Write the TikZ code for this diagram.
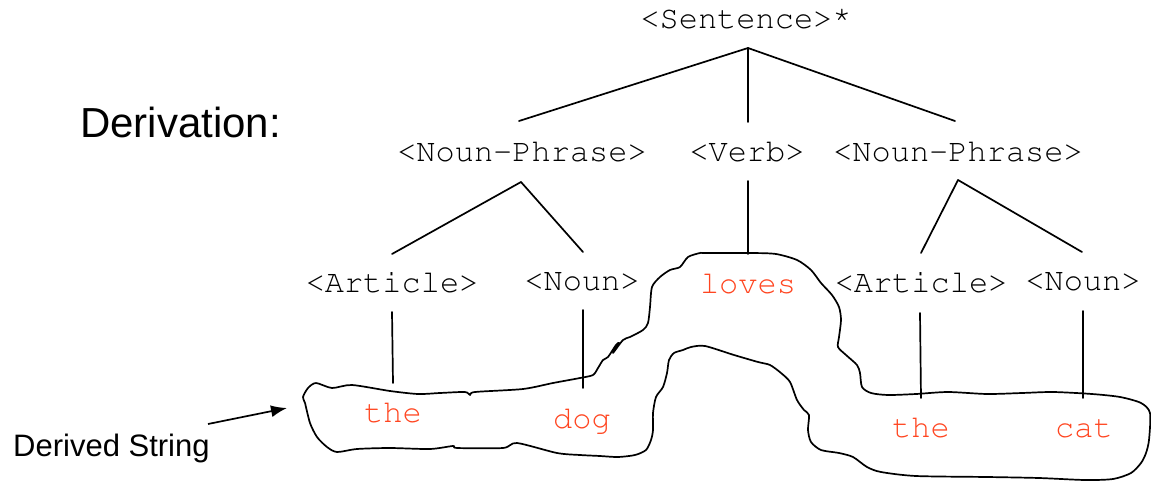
\documentclass[tikz,border=0pt]{standalone}
\usepackage[T1]{fontenc}
\usepackage{fontspec}
\setmainfont{Liberation Sans}
\newcommand\crfont{\fontencoding{T1}\fontfamily{pcr}\fontseries{m}\fontshape{n}\selectfont}
\usetikzlibrary{arrows.meta}
\definecolor{leafred}{RGB}{255,69,32}
\tikzset{
  cat/.style={anchor=base, inner sep=0pt, font=\fontsize{32}{36}\crfont},
  leaf/.style={cat, text=leafred},
  edge/.style={line width=1.7pt, line cap=round},
  blob/.style={line width=1.7pt, line join=round},
  label/.style={anchor=base west, inner sep=0pt}
}
\begin{document}
\begin{tikzpicture}[x=1pt,y=-1pt]
\useasboundingbox (0,0) rectangle (1151,482);
% category nodes
\node[cat] (s)   at (746,28)  {<Sentence>\raisebox{5pt}{*}};
\node[cat] (np1) at (522,161) {<Noun-Phrase>};
\node[cat] (v)   at (747,161) {<Verb>};
\node[cat] (np2) at (958,161) {<Noun-Phrase>};
\node[cat] (a1)  at (392,292) {<Article>};
\node[cat] (n1)  at (582,290) {<Noun>};
\node[cat] (a2)  at (921,292) {<Article>};
\node[cat] (n2)  at (1083,290) {<Noun>};
% leaves
\node[leaf] (lv) at (748,293) {loves};
\node[leaf] (t1) at (393,422) {the};
\node[leaf] (d)  at (582,428) {dog};
\node[leaf] (t2) at (921,437) {the};
\node[leaf] (c)  at (1084,437) {cat};
% labels
\node[label, font=\fontsize{42}{46}\selectfont] (der) at (80,137) {Derivation:};
\node[label, font=\fontsize{31}{34}\selectfont] (ds) at (13,456) {Derived String};
% connector ends
\coordinate (s-b) at (748,48);
\coordinate (np1-t) at (519,121);
\coordinate (v-t) at (748,122);
\coordinate (np2-t) at (955,121);
\coordinate (np1-b) at (521,182);
\coordinate (a1-t) at (392,254);
\coordinate (n1-t) at (583,252);
\coordinate (v-b) at (748,181);
\coordinate (lv-t) at (748,254);
\coordinate (np2-b) at (958,180);
\coordinate (a2-t) at (921,253);
\coordinate (n2-t) at (1082,252);
\coordinate (a1-b) at (392,312);
\coordinate (t1-t) at (393,383);
\coordinate (n1-b) at (583,310);
\coordinate (d-t) at (583,388);
\coordinate (a2-b) at (920,313);
\coordinate (t2-t) at (921,398);
\coordinate (n2-b) at (1083,311);
\coordinate (c-t) at (1083,398);
\coordinate (arr-s) at (208,424);
\coordinate (arr-e) at (287,408);
% tree edges
\draw[edge] (s-b) -- (np1-t);
\draw[edge] (s-b) -- (v-t);
\draw[edge] (s-b) -- (np2-t);
\draw[edge] (np1-b) -- (a1-t);
\draw[edge] (np1-b) -- (n1-t);
\draw[edge] (v-b) -- (lv-t);
\draw[edge] (np2-b) -- (a2-t);
\draw[edge] (np2-b) -- (n2-t);
\draw[edge] (a1-b) -- (t1-t);
\draw[edge] (n1-b) -- (d-t);
\draw[edge] (a2-b) -- (t2-t);
\draw[edge] (n2-b) -- (c-t);
% arrow
\draw[line width=1.7pt, -{Latex[length=16pt,width=12pt]}] (arr-s) -- (arr-e);
% hand-drawn outline
\draw[blob] plot[smooth cycle, tension=0.45] coordinates {
 (316,383) (332,388) (352,385) (390,391) (418,394) (440,393) (465,392) (470,395) (475,392)
 (523,389) (553,383) (580,378) (593,375) (598,368) (603,360) (608,357) (616,345) (619,343)
 (613,353) (623,340) (630,337) (643,330) (648,323) (650,307) (652,287) (660,277) (670,270)
 (680,267) (688,257) (700,253) (705,253) (751,253) (776,254) (797,260) (811,270) (821,283)
 (832,295) (839,307) (841,320) (839,337) (838,347) (846,355) (857,365) (860,373) (862,387)
 (871,393) (888,395) (916,394) (948,392) (987,394) (1022,393) (1053,392) (1092,394)
 (1120,397) (1141,403) (1150,413) (1149,440) (1146,453) (1141,463) (1131,473) (1113,479)
 (1085,480) (1039,478) (987,477) (916,476) (881,472) (867,467) (853,457) (839,453)
 (821,450) (811,442) (808,430) (809,415) (804,410) (797,400) (790,382) (781,373)
 (770,365) (758,362) (734,355) (705,346) (691,347) (683,350) (674,353) (669,360)
 (667,373) (663,387) (656,397) (653,413) (653,430) (651,440) (646,450) (635,455)
 (618,457) (600,456) (580,455) (557,453) (517,443) (503,448) (457,448) (453,446)
 (430,449) (390,448) (357,449) (337,452) (327,447) (317,437) (310,423) (305,403)
 (303,397) (308,388)
};
\end{tikzpicture}
\end{document}
